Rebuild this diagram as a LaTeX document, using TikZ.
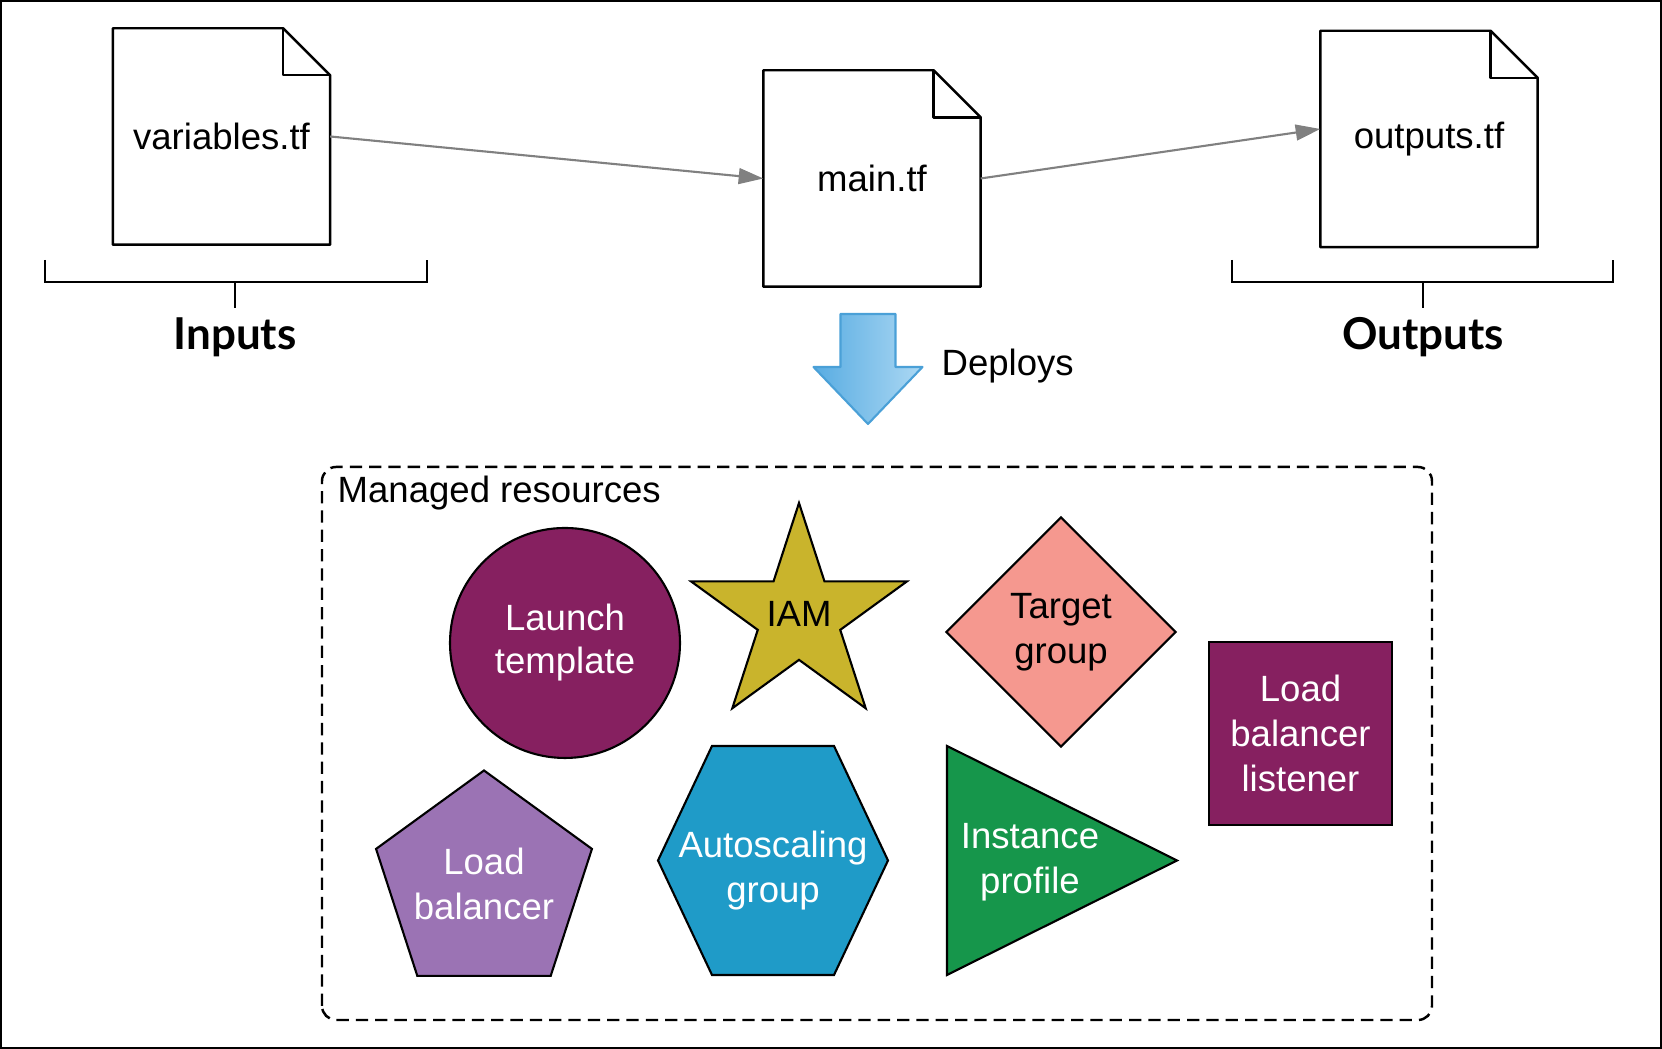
\documentclass[tikz,border=0pt]{standalone}
\usepackage{fontspec}
\setmainfont{Liberation Sans}
\newfontfamily\lblfont{Lato}
\usepackage{tikz}
\usetikzlibrary{calc,positioning,shapes.geometric,arrows.meta}
\definecolor{plum}{RGB}{134,32,96}
\definecolor{iamgold}{RGB}{201,180,44}
\definecolor{salmon}{RGB}{245,152,143}
\definecolor{lavender}{RGB}{155,115,180}
\definecolor{asgblue}{RGB}{31,155,200}
\definecolor{ipgreen}{RGB}{22,150,75}
\definecolor{deployedge}{RGB}{74,160,215}
\definecolor{deploydark}{RGB}{88,172,226}
\definecolor{deploylight}{RGB}{172,216,243}
\definecolor{linkgrey}{RGB}{128,128,128}
\tikzset{resline/.style={draw=black,line width=0.6pt}}

\begin{document}
\begin{tikzpicture}[font=\fontsize{10.4}{12.7}\selectfont]

\tikzset{docnode/.style={minimum width=2.16cm,minimum height=2.15cm,inner sep=0pt},
docline/.style={line width=0.7pt,line join=round},
bracket/.style={line width=0.7pt},
link/.style={linkgrey,line width=0.6pt,-{Triangle[length=7pt,width=4.5pt]}},
res/.style={resline,inner sep=0pt,align=center},
lbl/.style={font=\lblfont\bfseries\fontsize{12.5}{15}\selectfont,inner sep=2.5pt},
resbox/.style={line width=0.7pt,dash pattern=on 3.5pt off 2pt,rounded corners=4pt}}

% Frame
\useasboundingbox (0,0) rectangle (16.62,10.49);
\draw[line width=0.6pt] (0.01,0.01) rectangle (16.61,10.48);

% Files
\node[docnode] (vars) at (2.215,9.125) {variables.tf};
\node[docnode] (main) at (8.72,8.705) {main.tf};
\node[docnode] (outs) at (14.29,9.10) {outputs.tf};
\foreach \f in {vars,main,outs} {
  \draw[docline] (\f.north west) -- ($(\f.north east)+(-0.47,0)$) -- ($(\f.north east)+(0,-0.47)$) -- (\f.south east) -- (\f.south west) -- cycle;
  \draw[docline] ($(\f.north east)+(-0.47,0)$) -- ($(\f.north east)+(-0.47,-0.47)$) -- ($(\f.north east)+(0,-0.47)$); % fold
}

% Links
\draw[link] (vars.east) -- (main.west);
\draw[link] (main.east) -- ([yshift=0.1cm]outs.west);

% Inputs and outputs
\foreach \name/\txt/\l/\r/\c in {inputs/Inputs/0.45/4.27/2.35,outputs/Outputs/12.32/16.13/14.23} {
  \node[lbl] (\name) at (\c,7.12) {\txt};
  \draw[bracket] (\l,7.89) -- (\l,7.67) -- (\r,7.67) -- (\r,7.89);
  \coordinate (\name tick) at (\c,7.67);
  \draw[bracket] (\name tick) -- (\name.north);
}

% Deploys arrow
\coordinate (dtop) at (8.68,7.35);
\shadedraw[left color=deploydark,right color=deploylight,draw=deployedge,line width=0.6pt,line join=round]
  ($(dtop)+(-0.275,0)$) -- ($(dtop)+(0.275,0)$) -- ($(dtop)+(0.275,-0.53)$) -- ($(dtop)+(0.545,-0.53)$)
  -- ($(dtop)+(0,-1.10)$) -- ($(dtop)+(-0.545,-0.53)$) -- ($(dtop)+(-0.275,-0.53)$) -- cycle;
\node[anchor=west,inner sep=0pt] (deploys) at (9.41,6.83) {Deploys};

% Managed resources
\draw[resbox] (3.22,0.29) rectangle (14.32,5.82);
\node[anchor=base west,inner sep=0pt] (managed) at (3.37,5.46) {Managed resources};

\node[res,circle,fill=plum,text=white,minimum size=2.30cm] (launch) at (5.65,4.06) {Launch\\[-0.5pt]template};
\node[res,star,star points=5,star point ratio=2.618,fill=iamgold,minimum size=2.27cm,
  label={[inner sep=0pt,yshift=0.03cm]center:IAM}] (iam) at (7.99,4.325) {};
\node[res,diamond,fill=salmon,minimum width=2.30cm,minimum height=2.30cm] (target) at (10.61,4.17) {Target\\group};
\node[res,rectangle,fill=plum,text=white,minimum size=1.83cm] (listener) at (13.005,3.155) {Load\\balancer\\listener};
\node[res,regular polygon,regular polygon sides=5,fill=lavender,minimum size=2.27cm,
  label={[inner sep=0pt,align=center,text=white]center:Load\\balancer}] (lb) at (4.84,1.65) {};

% hexagon, stretched
\coordinate (asgc) at (7.73,1.885);
\filldraw[resline,fill=asgblue] ($(asgc)+(-1.15,0)$) -- ($(asgc)+(-0.61,1.145)$) -- ($(asgc)+(0.61,1.145)$)
  -- ($(asgc)+(1.15,0)$) -- ($(asgc)+(0.61,-1.145)$) -- ($(asgc)+(-0.61,-1.145)$) -- cycle;
\node[align=center,text=white,inner sep=0pt] (asg) at ($(asgc)+(0,-0.10)$) {Autoscaling\\group};

% triangle
\coordinate (ipc) at (9.47,1.885);
\filldraw[resline,fill=ipgreen,line join=miter] ($(ipc)+(0,1.145)$) -- ($(ipc)+(2.30,0)$) -- ($(ipc)+(0,-1.145)$) -- cycle;
\node[align=center,text=white,inner sep=0pt] (profile) at (10.30,1.87) {Instance\\profile};

\end{tikzpicture}
\end{document}
